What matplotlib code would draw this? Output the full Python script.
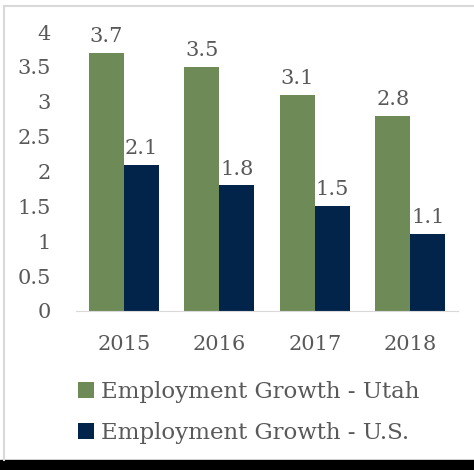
import matplotlib
matplotlib.use("Agg")
import matplotlib.pyplot as plt
import numpy as np
from matplotlib.patches import Rectangle
from matplotlib.lines import Line2D

years = ["2015", "2016", "2017", "2018"]
utah = [3.7, 3.5, 3.1, 2.8]
us = [2.1, 1.8, 1.5, 1.1]
series_names = ["Employment Growth - Utah", "Employment Growth - U.S."]

green = "#6e8b57"
navy = "#02234a"
grey_txt = "#595959"

plt.rcParams['font.family'] = ['DejaVu Serif']

fig = plt.figure(figsize=(4.74, 4.70), dpi=100)
ax = fig.add_axes([76/474, 1-311/470, (458-76)/474, (311-32)/470])

x = np.arange(len(years))
w = 0.366
b1 = ax.bar(x - w/2, utah, w, color=green, label=series_names[0])
b2 = ax.bar(x + w/2, us, w, color=navy, label=series_names[1])

for bars, vals in [(b1, utah), (b2, us)]:
    for r, v in zip(bars, vals):
        ax.annotate(f"{v}", (r.get_x() + r.get_width()/2, v), xytext=(0, 5),
                    textcoords="offset points", ha="center", va="bottom",
                    fontsize=15, color=grey_txt)

ax.set_xlim(-0.5, 3.5)
ax.set_ylim(0, 4)
ax.set_yticks(np.arange(0, 4.01, 0.5))
ax.set_yticklabels(["0", "0.5", "1", "1.5", "2", "2.5", "3", "3.5", "4"])
ax.set_xticks(x)
ax.set_xticklabels(years)
ax.tick_params(axis="both", length=0, labelsize=15, colors=grey_txt)
ax.tick_params(axis="y", pad=18)
ax.tick_params(axis="x", pad=17)
for s in ["top", "right", "left"]:
    ax.spines[s].set_visible(False)
ax.spines["bottom"].set_color("#d9d9d9")

# legend below the plot
fig.legend(handles=[b1, b2], labels=series_names, loc="upper left",
           bbox_to_anchor=(57/474, 1-360/470), frameon=False, fontsize=16.5,
           labelcolor=grey_txt, handlelength=0.7, handleheight=0.7,
           handletextpad=0.3, labelspacing=0.85)

# outer frame: grey rules top/left, black strip at the bottom
fig.add_artist(Line2D([4/474, 1], [1-6/470, 1-6/470], color="#d9d9d9", lw=1.5))
fig.add_artist(Line2D([4/474, 4/474], [10/470, 1-6/470], color="#d9d9d9", lw=1.5))
fig.add_artist(Rectangle((0, 0), 1, 10/470, color="black"))

fig.savefig("out.png", dpi=100)
